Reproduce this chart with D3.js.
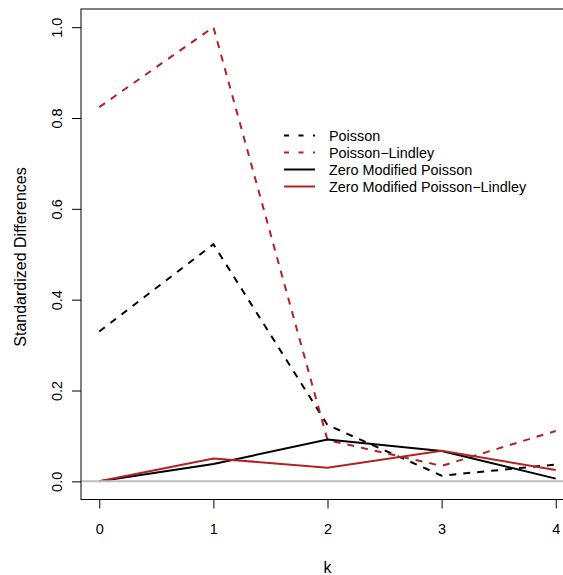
<!DOCTYPE html>
<html lang="en">
<head>
  <meta charset="UTF-8">
  <title>Standardized Differences</title>
  <script src="https://d3js.org/d3.v7.min.js"></script>
  <style>
    body { margin: 0; background: #fff; }
    svg { display: block; font-family: "Liberation Sans", Arial, sans-serif; }
    .axis text { fill: #000; }
    .axis path, .axis line { stroke: #000; }
  </style>
</head>
<body>
  <div id="chart"></div>
  <script>
    // data
    const kValues = [0, 1, 2, 3, 4];
    const poisson = [0.330, 0.522, 0.124, 0.0125, 0.037];
    const poissonLindley = [0.824, 1.0, 0.091, 0.034, 0.111];
    const zeroModPoisson = [0.0, 0.038, 0.092, 0.0667, 0.006];
    const zeroModPoissonLindley = [0.0, 0.0505, 0.030, 0.0674, 0.025];
    const yTicks = [0, 0.2, 0.4, 0.6, 0.8, 1.0];
    const seriesNames = ["Poisson", "Poisson\u2212Lindley", "Zero Modified Poisson", "Zero Modified Poisson\u2212Lindley"];

    const width = 563;
    const height = 575;
    const red = "#B22222";

    const series = [
      { name: seriesNames[0], values: poisson, color: "#000", dashed: true },
      { name: seriesNames[1], values: poissonLindley, color: red, dashed: true },
      { name: seriesNames[2], values: zeroModPoisson, color: "#000", dashed: false },
      { name: seriesNames[3], values: zeroModPoissonLindley, color: red, dashed: false }
    ];

    const svg = d3.select("#chart")
      .append("svg")
      .attr("width", width)
      .attr("height", height);

    // R style: 4% padding on both ends
    const x = d3.scaleLinear().domain([-0.16, 4.16]).range([81, 574]);
    const y = d3.scaleLinear().domain([-0.04, 1.04]).range([499.5, 9]);

    const line = d3.line()
      .x((d, i) => x(kValues[i]))
      .y(d => y(d));

    svg.selectAll(".series")
      .data(series)
      .enter()
      .append("path")
      .attr("class", "series")
      .attr("d", d => line(d.values))
      .attr("fill", "none")
      .attr("stroke", d => d.color)
      .attr("stroke-width", 2)
      .attr("stroke-dasharray", d => d.dashed ? "7,7" : null);

    // grey reference line at zero
    svg.append("line")
      .attr("x1", x.range()[0])
      .attr("x2", x.range()[1])
      .attr("y1", y(0))
      .attr("y2", y(0))
      .attr("stroke", "#BEBEBE")
      .attr("stroke-width", 2);

    // box
    svg.append("rect")
      .attr("x", x.range()[0])
      .attr("y", y.range()[1])
      .attr("width", x.range()[1] - x.range()[0])
      .attr("height", y.range()[0] - y.range()[1])
      .attr("fill", "none")
      .attr("stroke", "#000")
      .attr("stroke-width", 1);

    // axes
    const xAxis = svg.append("g")
      .attr("class", "axis")
      .attr("transform", `translate(0, ${y.range()[0]})`)
      .call(d3.axisBottom(x).tickValues(kValues).tickSize(9).tickSizeOuter(0).tickPadding(15).tickFormat(d3.format("d")));
    xAxis.select(".domain").remove();
    xAxis.selectAll("text").attr("font-size", 14.5);

    const yAxis = svg.append("g")
      .attr("class", "axis")
      .attr("transform", `translate(${x.range()[0]}, 0)`)
      .call(d3.axisLeft(y).tickValues(yTicks).tickSize(9).tickSizeOuter(0).tickFormat(d3.format(".1f")));
    yAxis.select(".domain").remove();
    yAxis.selectAll("text")
      .attr("font-size", 14.5)
      .attr("x", 0)
      .attr("y", -19.5)
      .attr("dy", null)
      .attr("text-anchor", "middle")
      .attr("transform", "rotate(-90)");

    // axis titles
    svg.append("text")
      .attr("x", 327.5)
      .attr("y", 572.5)
      .attr("text-anchor", "middle")
      .attr("font-size", 16)
      .text("k");

    svg.append("text")
      .attr("transform", "translate(26, 257) rotate(-90)")
      .attr("text-anchor", "middle")
      .attr("font-size", 16)
      .text("Standardized Differences");

    // legend
    const legend = svg.append("g")
      .attr("transform", "translate(284, 135.5)");

    const rows = legend.selectAll("g")
      .data(series)
      .enter()
      .append("g")
      .attr("transform", (d, i) => `translate(0, ${i * 17})`);

    rows.append("line")
      .attr("x1", 0)
      .attr("x2", 31)
      .attr("stroke", d => d.color)
      .attr("stroke-width", 2)
      .attr("stroke-dasharray", d => d.dashed ? "5,9.5" : null);

    rows.append("text")
      .attr("x", 45)
      .attr("dy", "0.36em")
      .attr("font-size", 14.4)
      .text(d => d.name);
  </script>
</body>
</html>
